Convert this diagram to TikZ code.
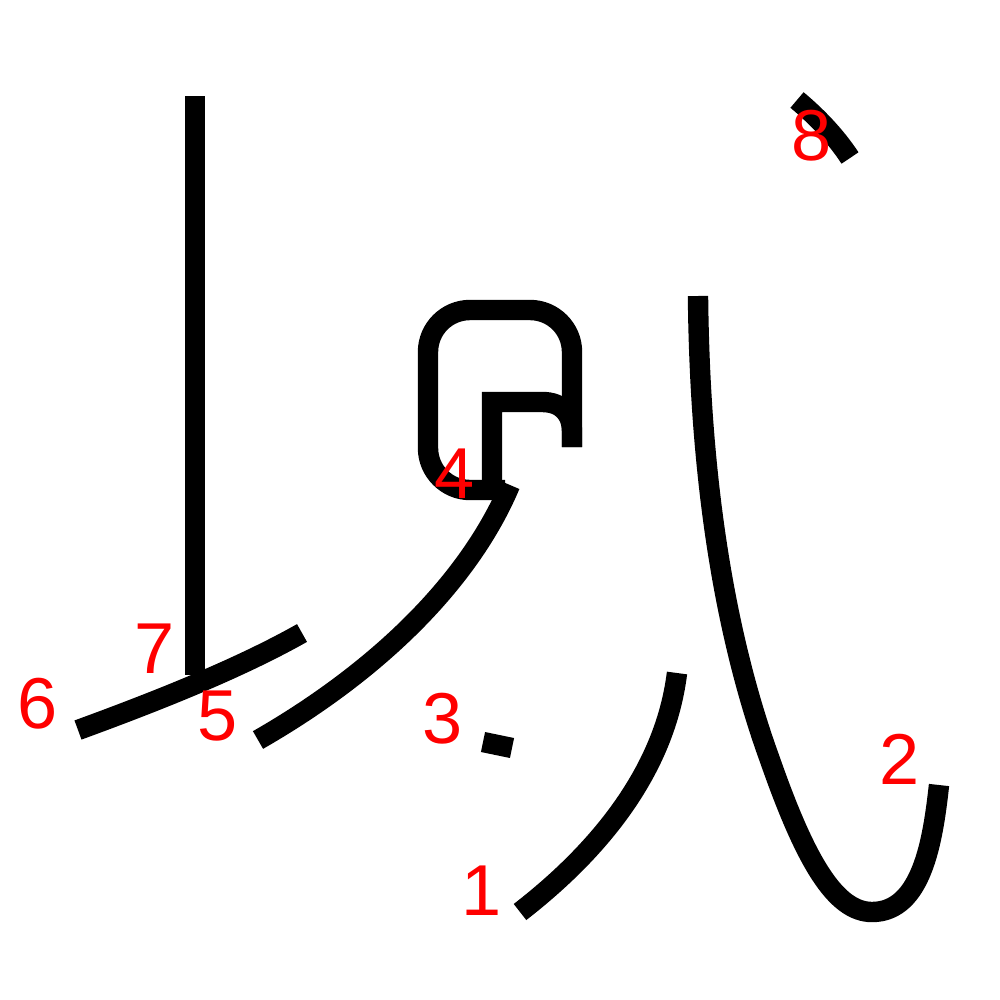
\documentclass[tikz,border=0pt]{standalone}
\usepackage{fontspec}
\setmainfont{Liberation Sans}
\begin{document}
\begin{tikzpicture}[x=0.01cm,y=-0.01cm,
  strk/.style={draw=black,line width=5.8pt,line cap=butt,line join=miter},
  num/.style={text=red,inner sep=0pt,font=\fontsize{20.5}{21}\selectfont}]
\useasboundingbox (0,0) rectangle (1000,1000);
% stroke 1
\draw[strk] (520,912) .. controls (600,850) and (665,770) .. (677,673);
% stroke 2
\draw[strk] (698,296) .. controls (700,500) and (730,650) .. (770,760)
  .. controls (805,860) and (835,912) .. (872,912)
  .. controls (922,912) and (933,840) .. (939,785);
% stroke 3
\draw[strk] (483,742) -- (512,748);
% stroke 4
\draw[strk,rounded corners=4.2mm] (572,447) -- (572,310) -- (428,310) -- (428,490) -- (505,490);
\draw[strk] (492,490) -- (492,402) -- (542,402) .. controls (562,402) and (572,414) .. (572,432) -- (572,447);
% stroke 5
\draw[strk] (510,485) .. controls (470,580) and (380,670) .. (258,740);
% stroke 6
\draw[strk] (78,730) .. controls (160,700) and (240,668) .. (302,633);
% stroke 7
\draw[strk] (195,96) -- (195,675);
% stroke 8
\draw[strk] (797,100) .. controls (815,115) and (835,135) .. (850,158);
% labels
\node[num] (n1) at (482,891) {1};
\node[num] (n2) at (900,759) {2};
\node[num] (n3) at (443,719) {3};
\node[num] (n4) at (455,474) {4};
\node[num] (n5) at (218,716) {5};
\node[num] (n6) at (38,704) {6};
\node[num] (n7) at (155,649) {7};
\node[num] (n8) at (812,136) {8};
\end{tikzpicture}
\end{document}
